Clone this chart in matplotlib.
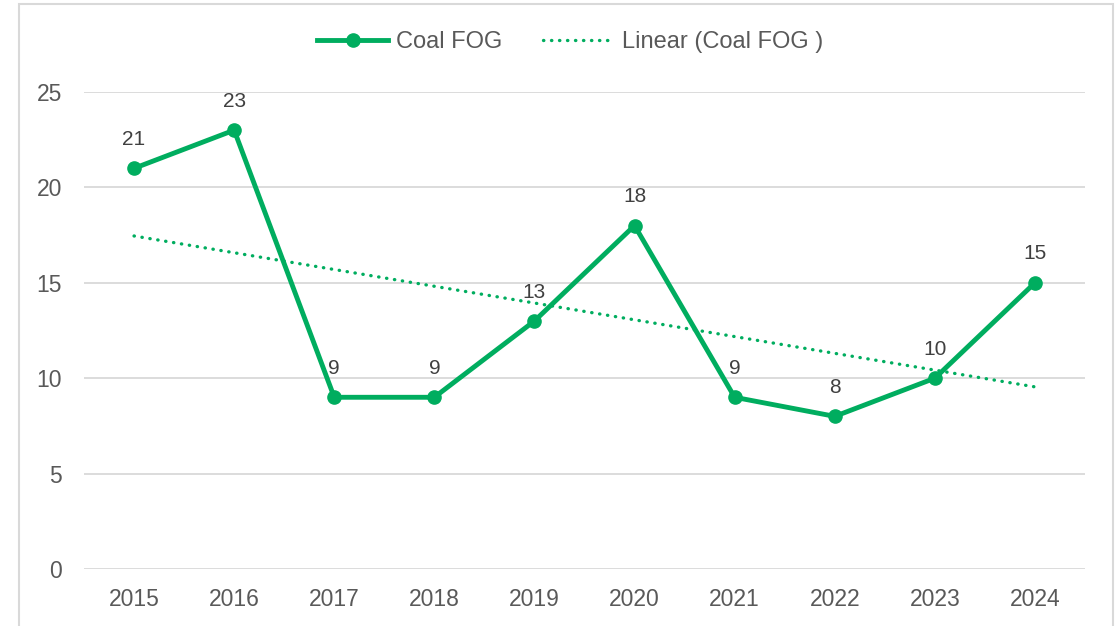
import numpy as np
import matplotlib.pyplot as plt
from matplotlib.patches import Rectangle

# data
years = ['2015', '2016', '2017', '2018', '2019', '2020', '2021', '2022', '2023', '2024']
coal_fog = [21, 23, 9, 9, 13, 18, 9, 8, 10, 15]
y_ticks = [0, 5, 10, 15, 20, 25]

green = '#00AD5F'
plt.rcParams['font.family'] = ['Liberation Sans', 'DejaVu Sans']

fig = plt.figure(figsize=(11.19, 6.26), dpi=100)
ax = fig.add_axes([84 / 1119, 1 - 569 / 626, 1001 / 1119, 477 / 626])

x = np.arange(len(years))

# main series
ax.plot(x, coal_fog, color=green, lw=3.5, marker='o', ms=9.5,
        label='Coal FOG', zorder=3)

# linear trend (least squares, like Excel)
slope, icpt = np.polyfit(x + 1, coal_fog, 1)
ax.plot(x, slope * (x + 1) + icpt, color=green, lw=2.4,
        linestyle=(0, (0.1, 2.3)), dash_capstyle='round',
        label='Linear (Coal FOG )', zorder=2)

# data labels
for xi, v in zip(x, coal_fog):
    ax.annotate(str(v), (xi, v), xytext=(0, 14), textcoords='offset points',
                ha='center', va='bottom', fontsize=15, color='#404040')

ax.set_xlim(-0.5, len(years) - 0.5)
ax.set_ylim(0, 25)
ax.set_xticks(x)
ax.set_xticklabels(years)
ax.set_yticks(y_ticks)
ax.tick_params(length=0, labelsize=16.5, colors='#595959', pad=14)
ax.tick_params(axis='y', pad=16)
ax.grid(axis='y', color='#D9D9D9', lw=1.3)
ax.set_axisbelow(True)
for s in ax.spines.values():
    s.set_visible(False)

ax.legend(loc='center', bbox_to_anchor=(570 / 1119, 1 - 42 / 626), bbox_transform=fig.transFigure,
          ncol=2, frameon=False, fontsize=17, labelcolor='#595959',
          handlelength=3.0, columnspacing=1.7, handletextpad=0.35)

# chart frame
fig.patches.append(Rectangle((19 / 1119, -0.1), 1094 / 1119, 1.1 - 4 / 626,
                             transform=fig.transFigure, fill=False,
                             edgecolor='#D9D9D9', lw=1.5))

fig.savefig('out.png', dpi=100)
